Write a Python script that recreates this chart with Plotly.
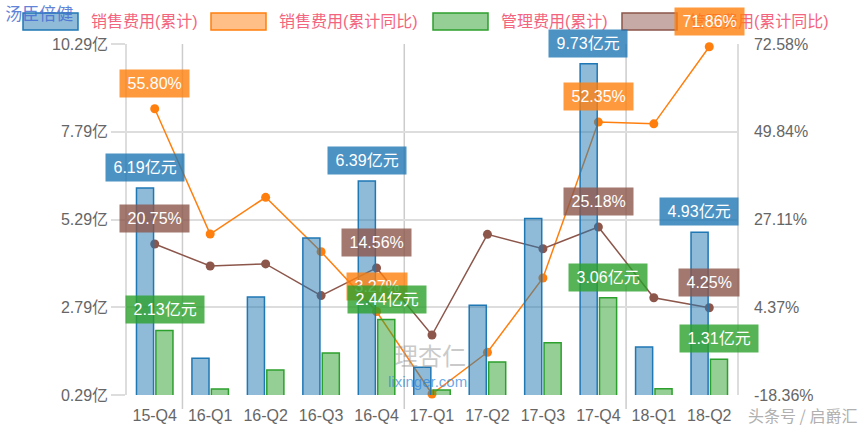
import plotly.graph_objects as go

quarters = ["15-Q4", "16-Q1", "16-Q2", "16-Q3", "16-Q4", "17-Q1", "17-Q2", "17-Q3", "17-Q4", "18-Q1", "18-Q2"]
sales_fee = [6.19, 1.34, 3.08, 4.76, 6.39, 1.08, 2.85, 5.32, 9.73, 1.66, 4.93]
sales_yoy = [55.80, 23.35, 32.86, 18.77, 3.27, -18.1, -7.3, 11.95, 52.35, 51.9, 71.86]
admin_fee = [2.13, 0.46, 1.00, 1.49, 2.44, 0.43, 1.23, 1.78, 3.06, 0.47, 1.31]
admin_yoy = [20.75, 15.06, 15.6, 7.4, 14.56, -2.82, 23.27, 19.54, 25.18, 6.85, 4.25]
label_idx = [0, 4, 8, 10]
series_names = ["销售费用(累计)", "销售费用(累计同比)", "管理费用(累计)", "管理费用(累计同比)"]

left_ticks = [0.29, 2.79, 5.29, 7.79, 10.29]
left_text = ["0.29亿", "2.79亿", "5.29亿", "7.79亿", "10.29亿"]
right_ticks = [-18.36, 4.375, 27.11, 49.845, 72.58]
right_text = ["-18.36%", "4.37%", "27.11%", "49.84%", "72.58%"]

FONT = "Liberation Sans, Arial, Noto Sans CJK SC, sans-serif"
BLUE, ORANGE, GREEN, BROWN = "#1f77b4", "#ff7f0e", "#2ca02c", "#8c564b"
FILLS = ["rgba(31,119,180,0.5)", "rgba(255,127,14,0.5)", "rgba(44,160,44,0.5)", "rgba(140,86,75,0.5)"]
EDGES = [BLUE, ORANGE, GREEN, BROWN]

# plot area in pixels (for placing the legend in paper units)
L, R, T, B = 127, 737, 44, 395


def px_x(p):
    return (p - L) / (R - L)


def px_y(p):
    return (B - p) / (B - T)


fig = go.Figure()
fig.add_trace(go.Bar(x=quarters, y=sales_fee, yaxis="y2", name=series_names[0], showlegend=False,
                     marker=dict(color=FILLS[0], line=dict(color=BLUE, width=1.5))))
fig.add_trace(go.Scatter(x=quarters, y=sales_yoy, yaxis="y", name=series_names[1], mode="lines+markers",
                         showlegend=False, line=dict(color=ORANGE, width=1.5),
                         marker=dict(size=9, color=ORANGE), cliponaxis=False))
fig.add_trace(go.Bar(x=quarters, y=admin_fee, yaxis="y2", name=series_names[2], showlegend=False,
                     marker=dict(color=FILLS[2], line=dict(color=GREEN, width=1.5))))
fig.add_trace(go.Scatter(x=quarters, y=admin_yoy, yaxis="y", name=series_names[3], mode="lines+markers",
                         showlegend=False, line=dict(color=BROWN, width=1.5),
                         marker=dict(size=9, color=BROWN), cliponaxis=False))


def text_width(s):
    w = 0
    for c in s:
        if ord(c) > 0x2E80:
            w += 16
        elif c == ".":
            w += 4.45
        elif c == "%":
            w += 14.2
        else:
            w += 8.9
    return w


def label(i, val, text, yref, bg, xshift, yshift):
    return dict(x=i, y=val, xref="x", yref=yref, text=text, showarrow=False,
                xanchor="center", yanchor="bottom", xshift=xshift, yshift=yshift,
                bgcolor=bg, borderpad=3, width=text_width(text) + 9, height=21,
                font=dict(family=FONT, size=16, color="white"))


shapes = [dict(type="line", xref="x", yref="paper", x0=b, x1=b, y0=-0.04, y1=1,
               line=dict(color="#cccccc", width=1.5), layer="below") for b in [0.5, 4.5, 8.5]]

annotations = []
# legend (rectangles + names)
legend_rect_px = [23, 211, 433, 622]
for k, name in enumerate(series_names):
    x0 = legend_rect_px[k]
    shapes.append(dict(type="rect", xref="paper", yref="paper",
                       x0=px_x(x0), x1=px_x(x0 + 55), y0=px_y(30), y1=px_y(13),
                       fillcolor=FILLS[k], line=dict(color=EDGES[k], width=1.5), layer="above"))
    annotations.append(dict(x=px_x(x0 + 66), y=px_y(22), xref="paper", yref="paper", text=name,
                            showarrow=False, xanchor="left", yanchor="middle",
                            font=dict(family=FONT, size=16, color="#f3647e")))

for i in label_idx:
    annotations.append(label(i, sales_fee[i], f"{sales_fee[i]:.2f}亿元", "y2", "rgba(31,119,180,0.8)", -10, 6))
for i in label_idx:
    annotations.append(label(i, sales_yoy[i], f"{sales_yoy[i]:.2f}%", "y", "rgba(255,127,14,0.8)", 0, 11))
for i in label_idx:
    annotations.append(label(i, admin_yoy[i], f"{admin_yoy[i]:.2f}%", "y", "rgba(140,86,75,0.8)", 0, 11))
for i in label_idx:
    annotations.append(label(i, admin_fee[i], f"{admin_fee[i]:.2f}亿元", "y2", "rgba(44,160,44,0.8)", 10, 6))

# watermark and source
annotations.append(dict(x=px_x(430), y=px_y(354), xref="paper", yref="paper", text="理杏仁", showarrow=False,
                        xanchor="center", yanchor="middle",
                        font=dict(family="Noto Sans CJK SC", size=24, color="rgba(150,150,150,0.5)")))
annotations.append(dict(x=px_x(427), y=px_y(381), xref="paper", yref="paper", text="lixinger.com",
                        showarrow=False, xanchor="center", yanchor="middle",
                        font=dict(family=FONT, size=15, color="rgba(40,130,220,0.7)")))
annotations.append(dict(x=px_x(802), y=px_y(415), xref="paper", yref="paper", text="头条号 / 启爵汇",
                        showarrow=False, xanchor="center", yanchor="middle",
                        font=dict(family="Noto Sans CJK SC", size=16, color="#b0b0b0")))

fig.update_layout(
    width=866, height=433,
    margin=dict(l=L, r=866 - R, t=T, b=433 - B, autoexpand=False),
    paper_bgcolor="white", plot_bgcolor="white",
    barmode="group", bargap=0.3, bargroupgap=0.12,
    font=dict(family=FONT, size=16, color="#666666"),
    showlegend=False,
    title=dict(text="汤臣倍健", x=0.006, xanchor="left", y=0.968, yanchor="middle",
               font=dict(family="Noto Sans CJK SC", size=17, color="rgba(70,110,210,0.85)")),
    xaxis=dict(type="category", range=[-0.5, 10.5], showgrid=False, showline=False, ticks="outside", ticklen=6,
               tickcolor="rgba(0,0,0,0)", tickfont=dict(size=16, color="#666666"), zeroline=False),
    yaxis=dict(side="right", range=[-18.36, 72.58], tickvals=right_ticks, ticktext=right_text,
               showgrid=True, gridcolor="#dddddd", gridwidth=1.5, showline=True, linecolor="#dddddd",
               linewidth=1.5, ticks="outside", ticklen=12, tickcolor="rgba(0,0,0,0)", zeroline=False,
               tickfont=dict(size=16, color="#666666")),
    yaxis2=dict(side="left", overlaying="y", range=[0.29, 10.29], tickvals=left_ticks, ticktext=left_text,
                showgrid=False, showline=True, linecolor="#dddddd", linewidth=1.5, ticks="outside",
                ticklen=14, tickcolor="#dddddd", tickwidth=1.5, zeroline=False,
                tickfont=dict(size=16, color="#666666")),
    annotations=annotations,
    shapes=shapes,
)

fig.write_html("out.html")
